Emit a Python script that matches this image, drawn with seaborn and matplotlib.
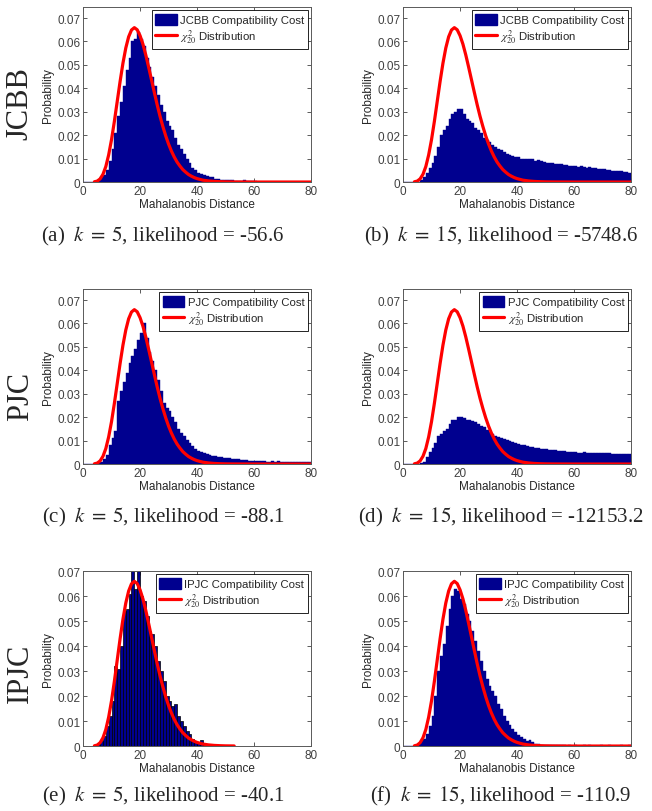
import numpy as np
import pandas as pd
import seaborn as sns
from matplotlib import pyplot as plt
from matplotlib.patches import Patch
from matplotlib.lines import Line2D

# histogram bin heights, 1-unit bins from 0 to 80
JCBB_K5 = [0, 0, 0, 0, 0.0005, 0.001, 0.002, 0.003, 0.005, 0.009,
           0.014, 0.021, 0.028, 0.034, 0.041, 0.048, 0.053, 0.060, 0.061, 0.064,
           0.061, 0.058, 0.053, 0.049, 0.045, 0.041, 0.037, 0.033, 0.030, 0.026,
           0.024, 0.022, 0.019, 0.016, 0.014, 0.012, 0.010, 0.008, 0.006, 0.005,
           0.004, 0.0035, 0.003, 0.0025, 0.002, 0.002, 0.0015, 0.0015, 0.001, 0.001,
           0.0008, 0.0007, 0.0008, 0.0005, 0.0006, 0.0005, 0.0008, 0.0004, 0.0003, 0.0003,
           0.0004, 0.0002, 0.0002, 0.0001, 0.0002, 0.0001, 0.0001, 0.0002, 0.0001, 0.0001,
           0.0001, 0.0001, 0.0001, 0.0001, 0.0001, 0.0001, 0.0001, 0.0001, 0.0001, 0.0001]

JCBB_K15 = [0, 0, 0, 0, 0, 0, 0.001, 0.002, 0.004, 0.006,
            0.008, 0.011, 0.015, 0.020, 0.022, 0.024, 0.027, 0.029, 0.030, 0.031,
            0.031, 0.029, 0.027, 0.026, 0.025, 0.023, 0.022, 0.021, 0.019, 0.018,
            0.017, 0.016, 0.015, 0.014, 0.0135, 0.013, 0.012, 0.0115, 0.011, 0.0105,
            0.0105, 0.010, 0.010, 0.0098, 0.0097, 0.0097, 0.009, 0.0092, 0.0088, 0.0085,
            0.0083, 0.008, 0.0082, 0.0078, 0.0076, 0.0076, 0.0072, 0.0074, 0.007, 0.0068,
            0.0068, 0.0066, 0.0067, 0.0064, 0.0062, 0.0064, 0.006, 0.0058, 0.0056, 0.0055,
            0.0054, 0.0052, 0.005, 0.0049, 0.0048, 0.0047, 0.0045, 0.0044, 0.0042, 0.004]

PJC_K5 = [0, 0, 0, 0, 0, 0.0005, 0.001, 0.002, 0.004, 0.008,
          0.011, 0.014, 0.027, 0.031, 0.035, 0.039, 0.043, 0.046, 0.049, 0.053,
          0.056, 0.060, 0.054, 0.048, 0.044, 0.040, 0.036, 0.031, 0.026, 0.024,
          0.0226, 0.020, 0.018, 0.015, 0.0133, 0.012, 0.0104, 0.009, 0.0075, 0.0065,
          0.0054, 0.005, 0.0046, 0.0042, 0.004, 0.0036, 0.0034, 0.003, 0.0028, 0.0027,
          0.0026, 0.0024, 0.0022, 0.002, 0.002, 0.0019, 0.0018, 0.0016, 0.0015, 0.0014,
          0.0014, 0.0012, 0.0012, 0.0015, 0.001, 0.001, 0.0011, 0.0009, 0.0012, 0.001,
          0.001, 0.0008, 0.001, 0.0008, 0.0009, 0.0008, 0.0008, 0.001, 0.0008, 0.001]

PJC_K15 = [0, 0, 0, 0, 0, 0, 0.0005, 0.001, 0.003, 0.005,
           0.007, 0.009, 0.012, 0.013, 0.014, 0.015, 0.017, 0.019, 0.019, 0.020,
           0.020, 0.0195, 0.019, 0.019, 0.0185, 0.018, 0.017, 0.0163, 0.0157, 0.0146,
           0.0136, 0.0128, 0.012, 0.0115, 0.011, 0.0107, 0.0102, 0.0098, 0.0094, 0.009,
           0.0086, 0.0083, 0.008, 0.0077, 0.0074, 0.0071, 0.0069, 0.0067, 0.0066, 0.0064,
           0.0064, 0.0062, 0.006, 0.0058, 0.0056, 0.0055, 0.0054, 0.0052, 0.0051, 0.005,
           0.005, 0.0049, 0.0049, 0.0052, 0.0048, 0.0047, 0.0047, 0.0048, 0.0046, 0.0046,
           0.0047, 0.0045, 0.0045, 0.0044, 0.0044, 0.0043, 0.0044, 0.0043, 0.0043, 0.0043]

IPJC_K5 = [0, 0, 0, 0, 0.0005, 0.001, 0.002, 0.004, 0.008, 0.012,
           0.018, 0.032, 0.031, 0.040, 0.054, 0.055, 0.061, 0.070, 0.063, 0.070,
           0.060, 0.058, 0.052, 0.046, 0.045, 0.040, 0.034, 0.030, 0.026, 0.020,
           0.018, 0.016, 0.017, 0.012, 0.010, 0.008, 0.006, 0.005, 0.003, 0.002,
           0.0015, 0.0025, 0.0005, 0, 0, 0, 0, 0, 0, 0,
           0, 0, 0, 0, 0, 0, 0, 0, 0, 0,
           0, 0, 0, 0, 0, 0, 0, 0, 0, 0,
           0, 0, 0, 0, 0, 0, 0, 0, 0, 0]

IPJC_K15 = [0, 0, 0, 0, 0, 0.0005, 0.002, 0.003, 0.005, 0.008,
            0.012, 0.020, 0.030, 0.036, 0.041, 0.048, 0.055, 0.060, 0.063, 0.062,
            0.059, 0.057, 0.053, 0.050, 0.046, 0.042, 0.038, 0.034, 0.030, 0.027,
            0.024, 0.022, 0.020, 0.017, 0.015, 0.012, 0.010, 0.0085, 0.007, 0.0055,
            0.0045, 0.0035, 0.003, 0.002, 0.0025, 0.0015, 0.001, 0.0008, 0.0006, 0.0006,
            0.0004, 0.0004, 0.0003, 0.0004, 0.0003, 0.0003, 0.0004, 0.0002, 0.0003, 0.0002,
            0.0003, 0.0002, 0.0002, 0.0003, 0.0002, 0.0004, 0.0002, 0.0002, 0.0002, 0.0003,
            0.0002, 0.0002, 0.0003, 0.0002, 0.0002, 0.0002, 0.0003, 0.0002, 0.0002, 0.0004]

# chi-square (20 dof) curve values
CHI_X = [4, 5, 6, 7, 8, 9, 10, 11, 12, 13, 14, 15, 16, 17, 18, 19, 20, 21, 22, 23,
         24, 25, 26, 27, 28, 29, 30, 31, 32, 33, 34, 35, 36, 37, 38, 39, 40, 42, 44,
         46, 48, 50, 53, 60, 70, 80]
CHI_P = [0.0001, 0.0004, 0.00135, 0.0033, 0.0066, 0.0116, 0.0181, 0.0259, 0.0344,
         0.0429, 0.0507, 0.0572, 0.0620, 0.0649, 0.0659, 0.0650, 0.0625, 0.0589,
         0.0543, 0.0491, 0.0437, 0.0383, 0.0330, 0.0281, 0.0237, 0.0197, 0.0162,
         0.0132, 0.01065, 0.0085, 0.0068, 0.0053, 0.0042, 0.0032, 0.0025, 0.0019,
         0.00145, 0.0008, 0.00046, 0.00025, 0.00014, 0.00007, 0.00003, 0, 0, 0]

ROW_NAMES = ["JCBB", "PJC", "IPJC"]
PANEL_DATA = [[JCBB_K5, JCBB_K15], [PJC_K5, PJC_K15], [IPJC_K5, IPJC_K15]]
CAPTIONS = [[r"(a) $\;k\;=\;5$, likelihood = -56.6", r"(b) $\;k\;=\;15$, likelihood = -5748.6"],
            [r"(c) $\;k\;=\;5$, likelihood = -88.1", r"(d) $\;k\;=\;15$, likelihood = -12153.2"],
            [r"(e) $\;k\;=\;5$, likelihood = -40.1", r"(f) $\;k\;=\;15$, likelihood = -110.9"]]
Y_TICKS = [0, 0.01, 0.02, 0.03, 0.04, 0.05, 0.06, 0.07]
Y_TICK_LABELS = ["0", "0.01", "0.02", "0.03", "0.04", "0.05", "0.06", "0.07"]
X_TICKS = [0, 20, 40, 60, 80]

NAVY = "#00008F"

sns.set_style("ticks")
plt.rcParams["font.family"] = ["Liberation Sans", "DejaVu Sans"]
plt.rcParams["mathtext.fontset"] = "stix"

fig = plt.figure(figsize=(6.52, 8.12), dpi=100)

centers = np.arange(80) + 0.5

col_left = [0.1273, 0.6181]
row_bottom = [0.7746, 0.4273, 0.0800]
w, h = 0.350, 0.2155
row_ymax = [0.0747, 0.0747, 0.07]
cap_y = [0.703, 0.357, 0.013]
cap_x = [0.250, 0.768]
label_y = [0.872, 0.512, 0.171]

for r in range(3):
    for c in range(2):
        ax = fig.add_axes([col_left[c], row_bottom[r], w, h])
        df = pd.DataFrame({"dist": centers, "p": PANEL_DATA[r][c]})
        boxed = (r == 2 and c == 0)
        sns.histplot(data=df, x="dist", weights="p", binwidth=1, binrange=(0, 80),
                     stat="count", color=NAVY, alpha=1,
                     edgecolor="black" if boxed else NAVY,
                     linewidth=0.5 if boxed else 0.3, ax=ax)
        if boxed:
            cx = [x for x in CHI_X if x <= 53]
            cp = CHI_P[:len(cx)]
        else:
            cx, cp = CHI_X, CHI_P
        sns.lineplot(x=cx, y=cp, color="red", linewidth=2.3, ax=ax)

        ax.set_xlim(0, 80)
        ax.set_ylim(0, row_ymax[r])
        ax.set_xticks(X_TICKS)
        ax.set_xticklabels([str(t) for t in X_TICKS])
        ax.set_yticks(Y_TICKS)
        ax.set_yticklabels(Y_TICK_LABELS)
        ax.tick_params(direction="in", top=True, right=True, length=3,
                       width=0.6, labelsize=8.5, pad=2, colors="0.25")
        for s in ax.spines.values():
            s.set_color("0.35")
            s.set_linewidth(0.7)
        ax.set_xlabel("Mahalanobis Distance", fontsize=8.5, labelpad=1)
        ax.set_ylabel("Probability", fontsize=8.5, labelpad=2)

        handles = [Patch(facecolor=NAVY, edgecolor=NAVY),
                   Line2D([], [], color="red", linewidth=2.3)]
        labels = [ROW_NAMES[r] + " Compatibility Cost", r"$\chi^2_{20}$ Distribution"]
        leg = ax.legend(handles, labels, loc="upper right", fontsize=8.2,
                        frameon=True, fancybox=False, framealpha=1,
                        edgecolor="black", borderaxespad=0.3, borderpad=0.3,
                        handlelength=1.9, handleheight=1.1, handletextpad=0.3,
                        labelspacing=0.2)
        leg.get_frame().set_linewidth(0.6)

        fig.text(cap_x[c], cap_y[r], CAPTIONS[r][c], ha="center", va="baseline",
                 fontsize=15, family="Liberation Serif")

    fig.text(0.031, label_y[r], ROW_NAMES[r], rotation=90, ha="center",
             va="center", fontsize=22, family="Liberation Serif")

fig.savefig("out.png", dpi=100)
